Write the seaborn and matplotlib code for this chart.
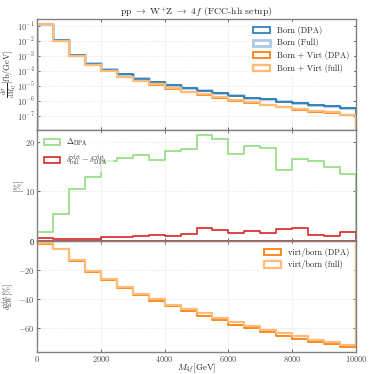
import matplotlib
matplotlib.use("Agg")
import matplotlib.pyplot as plt
import matplotlib.ticker as mticker
import numpy as np
import pandas as pd
import seaborn as sns

# bins of M_4f in GeV
edges = list(range(0, 10001, 500))
centers = [e + 250 for e in edges[:-1]]

# d sigma / d M4f [fb/GeV] (log10 values)
log_born_dpa = [-0.87, -1.94, -2.95, -3.50, -3.90, -4.22, -4.50, -4.74, -4.96, -5.14,
                -5.30, -5.45, -5.63, -5.79, -5.88, -6.03, -6.15, -6.26, -6.33, -6.44]
log_born_full = [-0.87, -1.94, -2.95, -3.49, -3.89, -4.21, -4.49, -4.73, -4.95, -5.13,
                 -5.29, -5.44, -5.62, -5.78, -5.87, -6.02, -6.14, -6.25, -6.32, -6.43]
log_bv_dpa = [-0.88, -1.97, -3.01, -3.62, -4.02, -4.40, -4.67, -4.91, -5.18, -5.41,
              -5.58, -5.79, -5.97, -6.10, -6.26, -6.42, -6.57, -6.70, -6.79, -6.93]
log_bv_full = [-0.88, -1.96, -3.00, -3.61, -4.01, -4.39, -4.66, -4.89, -5.16, -5.38,
               -5.55, -5.76, -5.94, -6.07, -6.23, -6.39, -6.54, -6.67, -6.76, -6.90]

# middle panel [%]
delta_dpa = [1.75, 5.45, 10.4, 12.9, 16.2, 16.8, 17.4, 16.3, 18.2, 18.5,
             21.3, 20.5, 17.6, 19.1, 18.8, 14.3, 16.6, 16.1, 14.9, 13.5]
delta_virt_diff = [0.6, 0.35, 0.35, 0.35, 0.8, 0.8, 0.95, 1.2, 0.95, 1.5,
                   2.55, 2.15, 1.6, 1.95, 1.7, 2.35, 2.6, 1.2, 1.1, 1.8]

# bottom panel virt/born [%]
virt_dpa = [-2.0, -5.4, -13.6, -21.1, -27.0, -32.2, -37.2, -41.3, -44.7, -48.1,
            -51.5, -54.4, -57.6, -59.9, -62.8, -65.1, -67.3, -69.2, -70.7, -72.6]
virt_full = [-1.7, -5.2, -13.2, -20.6, -26.3, -31.7, -36.3, -40.1, -44.2, -46.5,
             -49.7, -52.6, -56.0, -58.3, -61.0, -63.3, -65.6, -68.0, -69.6, -71.2]

sns.set_style("ticks")
plt.rcParams.update({
    "font.family": "serif",
    "font.serif": ["cmr10", "DejaVu Serif"],
    "mathtext.fontset": "cm",
    "axes.formatter.use_mathtext": True,
    "axes.unicode_minus": True,
    "font.size": 6.5,
    "axes.edgecolor": "0.5",
    "axes.linewidth": 1.0,
    "xtick.color": "0.3",
    "ytick.color": "0.3",
    "xtick.labelcolor": "0.3",
    "ytick.labelcolor": "0.3",
    "xtick.direction": "in",
    "ytick.direction": "in",
    "xtick.labelsize": 6,
    "ytick.labelsize": 6,
})


def step(ax, vals, color, lw, label):
    df = pd.DataFrame({"m4f": centers, "w": np.asarray(vals, dtype=float)})
    sns.histplot(data=df, x="m4f", weights="w", bins=edges, element="step", fill=True,
                 facecolor="none", color=color, linewidth=lw, label=label, ax=ax)


leg_kw = dict(fontsize=6, edgecolor="white", framealpha=1, fancybox=False,
              handlelength=2.1, handleheight=0.75, labelspacing=0.45, borderaxespad=0.4)

fig, axes = plt.subplots(3, 1, sharex=True, figsize=(3.74, 3.74), dpi=100,
                         gridspec_kw={"hspace": 0})
fig.subplots_adjust(left=0.099, right=0.952, top=0.949, bottom=0.059)
ax1, ax2, ax3 = axes

ax1.set_yscale("log")
step(ax1, 10 ** np.array(log_born_full), "#aec7e8", 2.0, "Born (Full)")
step(ax1, 10 ** np.array(log_born_dpa), "#1f77b4", 1.2, "Born (DPA)")
step(ax1, 10 ** np.array(log_bv_dpa), "#ff7f0e", 1.3, "Born + Virt (DPA)")
step(ax1, 10 ** np.array(log_bv_full), "#ffbb78", 1.7, "Born + Virt (full)")
ax1.set_ylim(10 ** -7.93, 10 ** -0.53)
ax1.yaxis.set_major_locator(mticker.LogLocator(base=10, numticks=20))
ax1.yaxis.set_minor_locator(mticker.NullLocator())
h, l = ax1.get_legend_handles_labels()
order = [l.index(s) for s in ["Born (DPA)", "Born (Full)", "Born + Virt (DPA)", "Born + Virt (full)"]]
ax1.legend([h[i] for i in order], [l[i] for i in order], loc="upper right", **leg_kw)
ax1.set_ylabel(r"$\frac{\mathrm{d}\sigma}{\mathrm{d}M_{4f}}$[fb/GeV]", fontsize=6)
ax1.yaxis.set_label_coords(-0.058, 0.5)
ax1.set_title(r"$\mathrm{pp}\ \to\ \mathrm{W}^{+}\mathrm{Z}\ \to\ 4f$ (FCC-hh setup)", fontsize=7, pad=3)

step(ax2, delta_dpa, "#98df8a", 1.3, r"$\Delta_{\rm DPA}$")
step(ax2, delta_virt_diff, "#d62728", 1.2, r"$\delta^{\rm virt}_{\rm full}-\delta^{\rm virt}_{\rm DPA}$")
ax2.legend(loc="upper left", **{**leg_kw, "framealpha": 0.6, "handlelength": 1.9})
ax2.set_ylabel("[%]", fontsize=6)
ax2.yaxis.set_label_coords(-0.045, 0.5)
ax2.set_yticks([0, 10, 20])

step(ax3, virt_dpa, "#ff7f0e", 1.3, "virt/born (DPA)")
step(ax3, virt_full, "#ffbb78", 1.6, "virt/born (full)")
ax3.legend(loc="upper right", **leg_kw)
ax3.set_ylabel(r"$\delta^{\rm virt}_{\rm EW}$[%]", fontsize=6)
ax3.yaxis.set_label_coords(-0.065, 0.5)
ax3.set_xlabel(r"$M_{4f}$[GeV]", fontsize=6.5, labelpad=-1.5)
ax3.set_xlim(0, 10000)
ax3.set_xticks([0, 2000, 4000, 6000, 8000, 10000])

for ax in axes:
    ax.grid(True, color="0.85", linestyle=":", linewidth=0.6)
    ax.tick_params(right=True, top=True, length=2.5, width=0.6, pad=1.5)
    ax.tick_params(which="minor", length=0)
    ax.set_axisbelow(True)

fig.savefig("out.png", dpi=100)
